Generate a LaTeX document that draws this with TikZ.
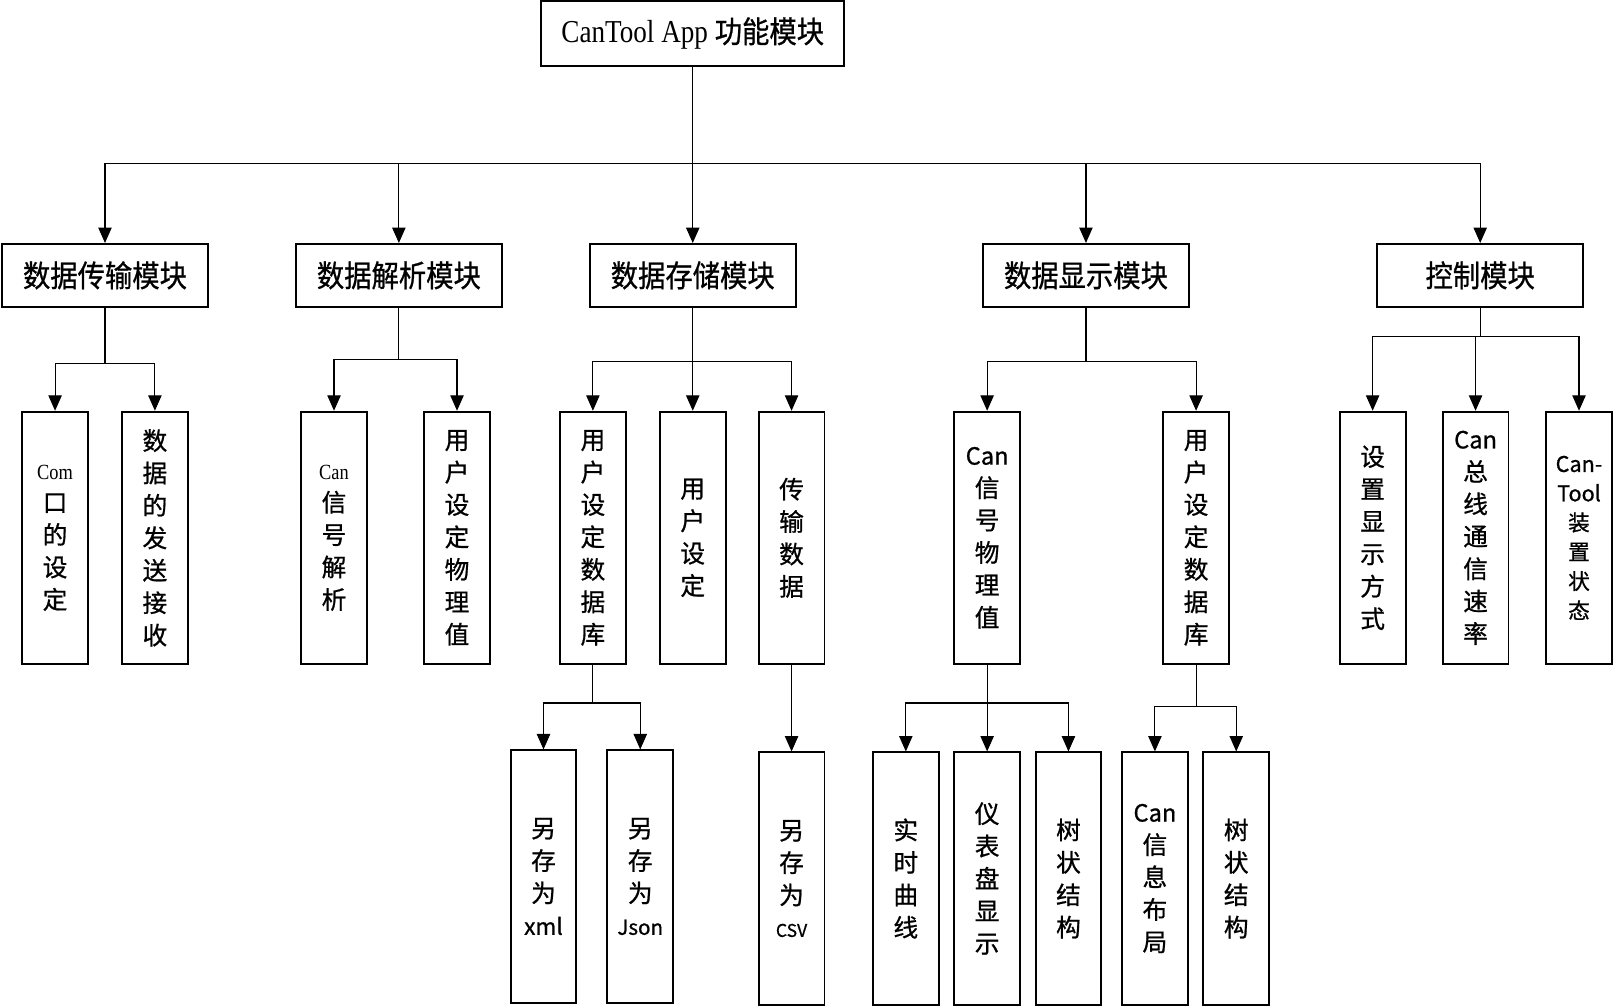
\documentclass[tikz,border=0pt]{standalone}
\usepackage{fontspec}
\setmainfont{Liberation Serif}
\newfontfamily\cjk{Noto Sans CJK SC}[FakeBold=0.8]
\newfontfamily\cjktall{Noto Sans CJK SC}[FakeBold=0.8, FakeStretch=0.9]
\newfontfamily\rmtall{Liberation Serif}[FakeStretch=0.85]
\usepackage{tikz}
\usetikzlibrary{arrows.meta, positioning}
\tikzset{
  blk/.style={rectangle, draw=black, line width=1.9pt, align=center, inner sep=1pt},
  rootbox/.style={blk, minimum width=294pt, minimum height=63pt, font=\rmtall\fontsize{31}{34}\selectfont},
  modbox/.style={blk, minimum width=200pt, minimum height=61pt, font=\cjktall\fontsize{29.5}{32}\selectfont},
  subbox/.style={blk, minimum width=64pt, minimum height=245pt, font=\cjk\fontsize{24}{31.5}\selectfont},
  ln/.style={line width=1.1pt, draw=black},
  arr/.style={ln, -{Triangle[length=15pt, width=13pt]}},
}
\newcommand{\rmlat}[1]{{\rmtall\fontsize{21}{22}\selectfont #1}}
\newcommand{\sflat}[2]{{\fontsize{#1}{22}\selectfont #2}}

\begin{document}
\begin{tikzpicture}[x=1pt, y=-1pt]
  \useasboundingbox (0,0) rectangle (1568,978);
  \node[rootbox] (root) at (673,32.5) {CanTool App {\cjktall\fontsize{29.5}{32}\selectfont 功能模块}};

  \node[modbox] (trans) at (102,267.5) {数据传输模块};
  \node[modbox] (parse) at (387.5,267.5) {数据解析模块};
  \node[modbox] (store) at (673,267.5) {数据存储模块};
  \node[modbox] (show) at (1055,267.5) {数据显示模块};
  \node[modbox] (ctrl) at (1438,267.5) {控制模块};

  \node[subbox] (com) at (53.5,522.5) {\rmlat{Com}\\口\\的\\设\\定};
  \node[subbox] (sendrecv) at (150.5,522.5) {数\\据\\的\\发\\送\\接\\收};
  \node[subbox] (sigparse) at (324.5,522.5) {\rmlat{Can}\\信\\号\\解\\析};
  \node[subbox] (userval) at (444,522.5) {用\\户\\设\\定\\物\\理\\值};
  \node[subbox] (userdb) at (576,522.5) {用\\户\\设\\定\\数\\据\\库};
  \node[subbox] (userset) at (673,522.5) {用\\户\\设\\定};
  \node[subbox] (transdata) at (769,522.5) {传\\输\\数\\据};
  \node[subbox] (physval) at (959,522.5) {\sflat{23}{Can}\\信\\号\\物\\理\\值};
  \node[subbox] (showdb) at (1162,522.5) {用\\户\\设\\定\\数\\据\\库};
  \node[subbox] (dispmode) at (1333.5,522.5) {设\\置\\显\\示\\方\\式};
  \node[subbox] (busrate) at (1433.5,522.5) {\sflat{23}{Can}\\总\\线\\通\\信\\速\\率};
  \node[subbox, font=\cjk\fontsize{21}{28.5}\selectfont] (devstate) at (1534,522.5) {Can-\\Tool\\装\\置\\状\\态};

  \node[subbox] (asxml) at (528,851.5) {另\\存\\为\\\sflat{22}{xml}};
  \node[subbox] (asjson) at (622,851.5) {另\\存\\为\\\sflat{20}{Json}};
  \node[subbox] (ascsv) at (769,853.5) {另\\存\\为\\\sflat{17}{CSV}};
  \node[subbox] (curve) at (880,853.5) {实\\时\\曲\\线};
  \node[subbox] (gauge) at (959,853.5) {仪\\表\\盘\\显\\示};
  \node[subbox] (treea) at (1038,853.5) {树\\状\\结\\构};
  \node[subbox] (layout) at (1122,853.5) {\sflat{23}{Can}\\信\\息\\布\\局};
  \node[subbox] (treeb) at (1201,853.5) {树\\状\\结\\构};

  \draw[ln] (root.south) -- ++(0,93.5) coordinate (bus);
  \foreach \m in {trans,parse,store,show,ctrl}
    \draw[arr] (bus) -| (\m.north);

  \foreach \c in {com,sendrecv}
    \draw[arr] (trans.south) -- ++(0,54) -| (\c.north);
  \foreach \c in {sigparse,userval}
    \draw[arr] (parse.south) -- ++(0,50) -| (\c.north);
  \foreach \c in {userdb,userset,transdata}
    \draw[arr] (store.south) -- ++(0,52) -| (\c.north);
  \foreach \c in {physval,showdb}
    \draw[arr] (show.south) -- ++(0,52) -| (\c.north);
  \foreach \c in {dispmode,busrate,devstate}
    \draw[arr] (ctrl.south) -- ++(0,28) -| (\c.north);

  \foreach \c in {asxml,asjson}
    \draw[arr] (userdb.south) -- ++(0,37) -| (\c.north);
  \draw[arr] (transdata) -- (ascsv);
  \foreach \c in {curve,gauge,treea}
    \draw[arr] (physval.south) -- ++(0,37) -| (\c.north);
  \foreach \c in {layout,treeb}
    \draw[arr] (showdb.south) -- ++(0,40) -| (\c.north);
\end{tikzpicture}
\end{document}
